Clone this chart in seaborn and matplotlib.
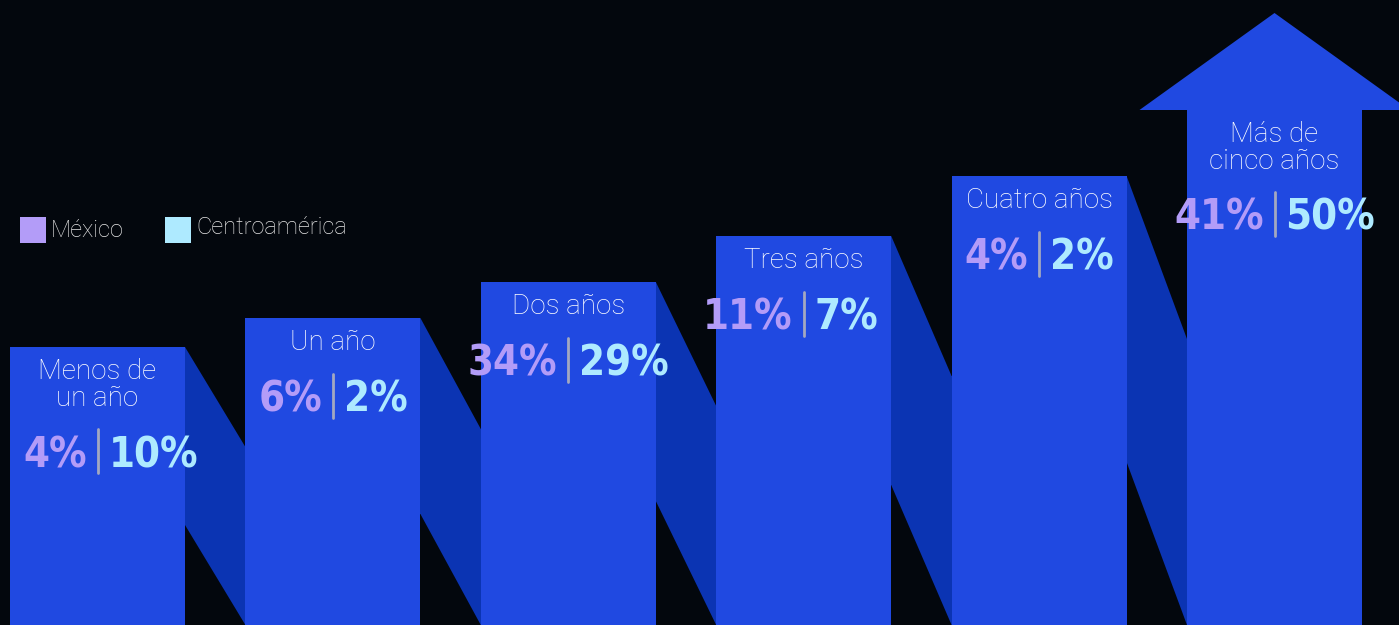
import pandas as pd
import seaborn as sns
import matplotlib.pyplot as plt
from matplotlib.patches import Polygon, Rectangle

categories = ["Menos de\nun año", "Un año", "Dos años", "Tres años",
              "Cuatro años", "Más de\ncinco años"]
mexico = [4, 6, 34, 11, 4, 41]
centroamerica = [10, 2, 29, 7, 2, 50]

# stair layout (pixels above the bottom edge) -- decoration, not data
step_height = [278, 307, 343, 389, 449, 515]
shadow_drop = [100, 111, 124, 140, 163]

W, H = 1399, 625
bg = "#03070d"
blue = "#2049e1"
shade = "#0b34b3"
purple = "#b39cf8"
cyan = "#aeeaff"
unit = 235.4  # pixels per category step

sns.set_theme(style="dark")
plt.rcParams["font.family"] = ["Roboto", "DejaVu Sans"]

fig = plt.figure(figsize=(W / 100, H / 100), dpi=100, facecolor=bg)
ax = fig.add_axes([0, 0, 1, 1])
ax.set_facecolor(bg)

df = pd.DataFrame({"cat": categories, "step": step_height})
sns.barplot(data=df, x="cat", y="step", color=blue, saturation=1,
            width=175 / unit, linewidth=0, ax=ax, zorder=2)

bars = ax.patches[:len(categories)]

# slanted shadows between the steps (tucked 2px under the bars to hide seams)
pad = 2 / unit
for i in range(len(bars) - 1):
    b, nb = bars[i], bars[i + 1]
    xr = b.get_x() + b.get_width()
    xl = nb.get_x()
    h = b.get_height()
    d = shadow_drop[i]
    slope = d / (xl - xr)
    ax.add_patch(Polygon([(xr - pad, h), (xr, h), (xl, h - d), (xl + pad, h - d),
                          (xl + pad, 0), (xl, 0), (xr, d), (xr - pad, d)],
                         closed=True, color=shade, lw=0, zorder=1))

# arrow head on the last step
last = bars[-1]
cx = last.get_x() + last.get_width() / 2
half = 135 / unit
top = last.get_height()
ax.add_patch(Polygon([(cx - half, top), (cx, top + 97), (cx + half, top)],
                     closed=True, color=blue, lw=0, zorder=2, clip_on=False))

for i, b in enumerate(bars):
    cx = b.get_x() + b.get_width() / 2
    top = b.get_height()
    nlines = categories[i].count("\n") + 1
    ax.text(cx, top - 11, categories[i], ha="center", va="top", fontsize=20,
            color="white", fontweight="light", linespacing=0.98, zorder=5)
    py = top - 78 - 26 * (nlines - 1)
    ax.plot([cx, cx], [py - 22, py + 22], color="#a3a8c0", lw=2, zorder=5)
    ax.text(cx - 11 / unit, py - 16, f"{mexico[i]}%", ha="right", va="baseline",
            fontsize=30, fontweight="bold", family="DejaVu Sans",
            fontstretch="condensed", color=purple, zorder=5)
    ax.text(cx + 11 / unit, py - 16, f"{centroamerica[i]}%", ha="left", va="baseline",
            fontsize=30, fontweight="bold", family="DejaVu Sans",
            fontstretch="condensed", color=cyan, zorder=5)

# legend
ax.add_patch(Rectangle((20 / W, 1 - 243 / H), 26 / W, 26 / H, transform=ax.transAxes,
                       color=purple, lw=0, clip_on=False))
ax.text(51 / W, 1 - 231 / H, "México", transform=ax.transAxes, va="center",
        fontsize=17, color="#e6e6e6", fontweight="light")
ax.add_patch(Rectangle((165 / W, 1 - 243 / H), 26 / W, 26 / H, transform=ax.transAxes,
                       color=cyan, lw=0, clip_on=False))
ax.text(196 / W, 1 - 227 / H, "Centroamérica", transform=ax.transAxes, va="center",
        fontsize=17, color="#e6e6e6", fontweight="light")

ax.set_xlim(-97.5 / unit, (W - 97.5) / unit)
ax.set_ylim(0, H)
ax.axis("off")

fig.savefig("out.png", dpi=100, facecolor=bg)
